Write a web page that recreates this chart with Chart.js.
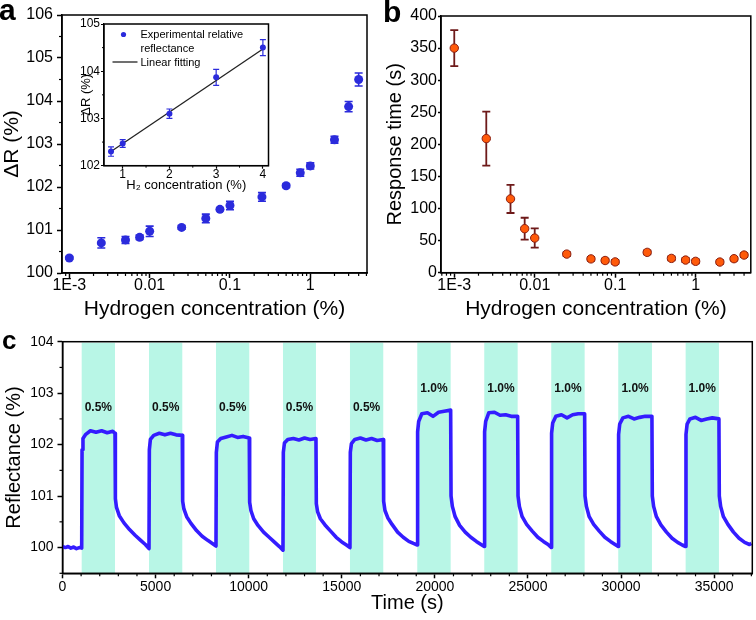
<!DOCTYPE html>
<html><head><meta charset="utf-8">
<script src="https://cdn.jsdelivr.net/npm/chart.js@4.4.1/dist/chart.umd.min.js"></script>
<style>
html,body{margin:0;padding:0;background:#fff;}
#wrap{position:relative;width:756px;height:620px;overflow:hidden;background:#fff;}
canvas{position:absolute;}
.lbl{position:absolute;font-family:Arial,"Liberation Sans",sans-serif;font-weight:bold;color:#000;line-height:1;}
</style></head><body>
<div id="wrap">
<canvas id="ca" width="372" height="322" style="left:0;top:0"></canvas>
<canvas id="cb" width="384" height="322" style="left:372px;top:0"></canvas>
<canvas id="cc" width="756" height="298" style="left:0;top:322px"></canvas>
<canvas id="ci" width="215" height="180" style="left:60px;top:15px"></canvas>
<div class="lbl" style="left:-1px;top:-5px;font-size:30px">a</div>
<div class="lbl" style="left:383px;top:-3px;font-size:30px">b</div>
<div class="lbl" style="left:2px;top:327px;font-size:26px">c</div>
</div>
<script>
// ---------- data ----------
const concentration = [0.001,0.0025,0.005,0.0075,0.01,0.025,0.05,0.075,0.1,0.25,0.5,0.75,1,2,3,4];
const deltaR      = [100.35,100.70,100.77,100.83,100.97,101.06,101.27,101.48,101.57,101.77,102.03,102.33,102.49,103.10,103.87,104.50];
const deltaRErr   = [0.03,0.12,0.08,0.05,0.12,0.04,0.10,0.03,0.10,0.10,0.04,0.08,0.07,0.08,0.12,0.15];
const responseTime= [350,209,115,68.6,54,29,21.5,19,16.8,31.7,22.3,19.7,17.7,16.6,21.8,27.5];
const responseErr = [28,42,22,17,15,3,3,3,3,3,3,3,3,3,3,3];

const insetConc   = [0.75,1,2,3,4];
const insetDeltaR = [102.30,102.47,103.10,103.87,104.50];
const insetErr    = [0.10,0.08,0.10,0.17,0.17];
const fitConc     = [0.75,4];
const fitDeltaR   = [102.30,104.47];

const logTickValues = [0.001,0.01,0.1,1];
const logTickLabels = ['1E-3','0.01','0.1','1'];
const aYTicks = [100,101,102,103,104,105,106];
const bYTicks = [0,50,100,150,200,250,300,350,400];
const insetXTicks = [1,2,3,4];
const insetYTicks = [102,103,104,105];
const cXTicks = [0,5000,10000,15000,20000,25000,30000,35000];
const cYTicks = [100,101,102,103,104];

const bandStart = [1031,4646,8244,11842,15440,19055,22653,26251,29850,33469];
const bandEnd   = [2820,6434,10032,13614,17229,20849,24447,28045,31659,35258];
const bandLabel = ['0.5%','0.5%','0.5%','0.5%','0.5%','1.0%','1.0%','1.0%','1.0%','1.0%'];

const traceTime = [
 0,150,300,450,600,750,900,1031,1050,1100,1250,1500,1800,2100,2400,2700,2820,
 2840,2900,3050,3300,3600,3900,4200,4450,4646,
 4665,4720,4900,5200,5500,5800,6100,6434,
 6454,6520,6670,6900,7200,7500,7800,8050,8244,
 8263,8320,8500,8800,9100,9400,9700,10032,
 10052,10120,10270,10500,10800,11100,11400,11650,11842,
 11861,11920,12100,12400,12700,13000,13300,13614,
 13634,13700,13850,14100,14400,14700,15000,15250,15440,
 15459,15520,15700,16000,16300,16600,16900,17229,
 17249,17320,17470,17700,18000,18300,18600,18850,19055,
 19074,19130,19300,19600,19900,20200,20500,20849,
 20869,20940,21090,21330,21630,21930,22230,22480,22653,
 22672,22730,22900,23200,23500,23800,24100,24447,
 24467,24540,24690,24930,25230,25530,25830,26080,26251,
 26270,26330,26500,26800,27100,27400,27700,28045,
 28065,28140,28290,28530,28830,29130,29430,29680,29850,
 29869,29930,30100,30400,30700,31000,31300,31659,
 31679,31750,31900,32140,32440,32740,33040,33290,33469,
 33488,33550,33700,34000,34300,34600,34900,35258,
 35278,35350,35500,35740,36040,36340,36640,36900,37000
];
const traceValue = [
 100.02,100.00,100.02,99.99,100.01,99.98,100.00,99.99,101.90,102.12,102.20,102.27,102.24,102.27,102.23,102.26,102.22,
 100.95,100.78,100.62,100.48,100.35,100.24,100.14,100.06,99.98,
 101.90,102.10,102.18,102.22,102.19,102.22,102.19,102.18,
 100.90,100.75,100.60,100.47,100.33,100.22,100.14,100.08,100.03,
 101.85,102.05,102.12,102.15,102.18,102.14,102.16,102.13,
 100.88,100.72,100.56,100.43,100.30,100.20,100.10,100.02,99.95,
 101.85,102.03,102.10,102.12,102.09,102.13,102.10,102.12,
 100.85,100.70,100.56,100.44,100.32,100.20,100.11,100.05,100.00,
 101.85,102.02,102.10,102.13,102.09,102.12,102.08,102.10,
 100.90,100.72,100.58,100.45,100.30,100.20,100.12,100.08,100.05,
 102.25,102.45,102.60,102.62,102.55,102.63,102.65,102.67,
 101.00,100.80,100.60,100.43,100.30,100.20,100.12,100.06,100.02,
 102.25,102.45,102.62,102.63,102.57,102.58,102.55,102.55,
 101.00,100.80,100.60,100.45,100.32,100.20,100.12,100.06,100.00,
 102.22,102.42,102.55,102.58,102.52,102.58,102.60,102.60,
 101.00,100.80,100.60,100.45,100.32,100.20,100.12,100.06,100.02,
 102.20,102.40,102.52,102.55,102.50,102.53,102.55,102.55,
 101.00,100.80,100.60,100.44,100.30,100.18,100.10,100.05,100.02,
 102.20,102.40,102.50,102.53,102.47,102.50,102.52,102.50,
 101.00,100.80,100.60,100.45,100.30,100.18,100.10,100.06,100.08
];

// ---------- helpers ----------
Chart.defaults.font.family = 'Arial, "Liberation Sans", Helvetica, sans-serif';
Chart.defaults.color = '#000';
const FONT = 'Arial, "Liberation Sans", Helvetica, sans-serif';

const framePlugin = {
  id:'frame',
  afterDraw(chart){
    const {ctx, chartArea:a} = chart;
    ctx.save(); ctx.strokeStyle='#000'; ctx.lineWidth=chart.config._frameWidth || 1.5;
    ctx.strokeRect(a.left, a.top, a.right-a.left, a.bottom-a.top);
    ctx.restore();
  }
};
function makeMinor(xVals, yVals, len, lw){
  return {
    id:'minorTicks',
    afterDraw(chart){
      const {ctx, chartArea:a, scales} = chart;
      ctx.save(); ctx.strokeStyle='#000'; ctx.lineWidth=lw;
      xVals.forEach(v=>{const p=scales.x.getPixelForValue(v); if(p<a.left-0.5||p>a.right+0.5) return;
        ctx.beginPath(); ctx.moveTo(p,a.bottom); ctx.lineTo(p,a.bottom+len); ctx.stroke();});
      yVals.forEach(v=>{const p=scales.y.getPixelForValue(v); if(p<a.top-0.5||p>a.bottom+0.5) return;
        ctx.beginPath(); ctx.moveTo(a.left,p); ctx.lineTo(a.left-len,p); ctx.stroke();});
      ctx.restore();
    }
  };
}
const errorBarPlugin = {
  id:'errorBars',
  beforeDatasetsDraw(chart){
    const {ctx, scales} = chart;
    chart.data.datasets.forEach(ds=>{
      if(!ds.errorBars) return;
      const cap = ds.capHalf || 4;
      ctx.save(); ctx.strokeStyle = ds.errorColor; ctx.lineWidth = ds.errorWidth || 1.5;
      ds.data.forEach((pt,i)=>{
        const e = ds.errorBars[i];
        const x = scales.x.getPixelForValue(pt.x);
        const y1 = scales.y.getPixelForValue(pt.y+e), y2 = scales.y.getPixelForValue(pt.y-e);
        ctx.beginPath();
        ctx.moveTo(x,y1); ctx.lineTo(x,y2);
        ctx.moveTo(x-cap,y1); ctx.lineTo(x+cap,y1);
        ctx.moveTo(x-cap,y2); ctx.lineTo(x+cap,y2);
        ctx.stroke();
      });
      ctx.restore();
    });
  }
};
function axisCommon(tickLen, pad, size, titleText, titleSize, titlePad, fitFn){
  return {
    grid:{display:true, drawOnChartArea:false, drawTicks:true, tickLength:tickLen, tickWidth:1.5, tickColor:'#000'},
    border:{display:true, color:'#000', width:1.5},
    ticks:{font:{size:size, family:FONT}, color:'#000', padding:pad, maxRotation:0, autoSkip:false},
    title:{display:true, text:titleText, font:{size:titleSize, family:FONT}, color:'#000', padding:titlePad},
    afterFit: fitFn
  };
}
function logMinor(min,max){
  const out=[];
  for(let d=-4; d<=1; d++){ for(let k=2;k<=9;k++){ const v=k*Math.pow(10,d); if(v>min&&v<max) out.push(v);} }
  return out;
}
const labelForLog = v => { const i = logTickValues.findIndex(t=>Math.abs(t-v)<1e-12); return i>=0?logTickLabels[i]:''; };

// ---------- panel a ----------
(function(){
  const xs = axisCommon(5,-2,16,'Hydrogen concentration (%)',21,{top:0,bottom:0.4}, s=>{s.height=49;});
  xs.type='logarithmic'; xs.min=0.00081; xs.max=5.08;
  xs.afterBuildTicks = s=>{ s.ticks = logTickValues.map(v=>({value:v})); };
  xs.ticks.callback = v=>labelForLog(v);
  const ys = axisCommon(5,4,16,'\u0394R (%)',21,{top:0,bottom:0}, s=>{s.width=62;});
  ys.min=100; ys.max=106;
  ys.afterBuildTicks = s=>{ s.ticks = aYTicks.map(v=>({value:v})); };
  ys.ticks.callback = v=>String(v);
  new Chart(document.getElementById('ca'), {
    type:'scatter',
    data:{datasets:[{label:'\u0394R', data:concentration.map((x,i)=>({x:x,y:deltaR[i]})),
      errorBars:deltaRErr, errorColor:'#2b2bdc', capHalf:4, errorWidth:1.6,
      pointRadius:4.5, pointBackgroundColor:'#2b2bdc', pointBorderColor:'#2b2bdc', pointBorderWidth:0, showLine:false}]},
    options:{responsive:false, animation:false, events:[],
      layout:{padding:{left:0,top:15,right:5,bottom:0}},
      plugins:{legend:{display:false}, tooltip:{enabled:false}},
      scales:{x:xs, y:ys}},
    plugins:[errorBarPlugin, makeMinor(logMinor(0.00081,5.08),[100.5,101.5,102.5,103.5,104.5,105.5],3,1.2), framePlugin]
  });
})();

// ---------- panel b ----------
(function(){
  const xs = axisCommon(5,-2,16,'Hydrogen concentration (%)',21,{top:0,bottom:0.4}, s=>{s.height=49.3;});
  xs.type='logarithmic'; xs.min=0.000684; xs.max=4.85;
  xs.afterBuildTicks = s=>{ s.ticks = logTickValues.map(v=>({value:v})); };
  xs.ticks.callback = v=>labelForLog(v);
  const ys = axisCommon(3,1,16,'Response time (s)',20,{top:11.5,bottom:0}, s=>{s.width=69;});
  ys.min=0; ys.max=400;
  ys.afterBuildTicks = s=>{ s.ticks = bYTicks.map(v=>({value:v})); };
  ys.ticks.callback = v=>String(v);
  new Chart(document.getElementById('cb'), {
    type:'scatter',
    data:{datasets:[{label:'Response time', data:concentration.map((x,i)=>({x:x,y:responseTime[i]})),
      errorBars:responseErr, errorColor:'#6e1a1a', capHalf:4, errorWidth:1.8,
      pointRadius:4.2, pointBackgroundColor:'#ff5a0a', pointBorderColor:'#8a1e10', pointBorderWidth:1, showLine:false}]},
    options:{responsive:false, animation:false, events:[],
      layout:{padding:{left:0,top:16,right:5,bottom:0}},
      plugins:{legend:{display:false}, tooltip:{enabled:false}},
      scales:{x:xs, y:ys}},
    plugins:[errorBarPlugin, makeMinor(logMinor(0.000684,4.85),[],3,1.2), framePlugin]
  });
})();

// ---------- inset ----------
(function(){
  const xs = axisCommon(3,-1,12,'H\u2082 concentration (%)',13,{top:0,bottom:1.5}, s=>{s.height=29.3;});
  xs.type='linear'; xs.min=0.6; xs.max=4.12;
  xs.afterBuildTicks = s=>{ s.ticks = insetXTicks.map(v=>({value:v})); };
  xs.ticks.callback = v=>String(v);
  xs.border.width=1.2; xs.grid.tickWidth=1.2;
  const ys = axisCommon(3,1,12,'\u0394R (%)',13,{top:18.2,bottom:0}, s=>{s.width=44;});
  ys.min=102; ys.max=105;
  ys.afterBuildTicks = s=>{ s.ticks = insetYTicks.map(v=>({value:v})); };
  ys.ticks.callback = v=>String(v);
  ys.border.width=1.2; ys.grid.tickWidth=1.2;
  const legendPlugin = {
    id:'insetLegend',
    afterDraw(chart){
      const ctx = chart.ctx; const ds = chart.data.datasets;
      ctx.save();
      ctx.fillStyle = ds[0].pointBackgroundColor;
      ctx.beginPath(); ctx.arc(63.5,19.5,2.6,0,Math.PI*2); ctx.fill();
      ctx.strokeStyle = ds[1].borderColor; ctx.lineWidth = 1.3;
      ctx.beginPath(); ctx.moveTo(52.5,47); ctx.lineTo(77.5,47); ctx.stroke();
      ctx.fillStyle='#000'; ctx.font='11px '+FONT; ctx.textBaseline='middle'; ctx.textAlign='left';
      ds[0].legendLines.forEach((t,i)=>ctx.fillText(t,80.5,20+i*13.5));
      ctx.fillText(ds[1].label,80.5,47.5);
      ctx.restore();
    }
  };
  const whiteBg = { id:'whiteBg', beforeDraw(chart){ const {ctx, chartArea:a}=chart; ctx.save(); ctx.fillStyle='#fff'; ctx.fillRect(a.left,a.top,a.right-a.left,a.bottom-a.top); ctx.restore(); } };
  const cfg = {
    type:'scatter',
    data:{datasets:[
      {label:'Experimental relative reflectance', legendLines:['Experimental relative','reflectance'],
       data:insetConc.map((x,i)=>({x:x,y:insetDeltaR[i]})),
       errorBars:insetErr, errorColor:'#2b2bdc', capHalf:3, errorWidth:1.2,
       pointRadius:3, pointBackgroundColor:'#2b2bdc', pointBorderWidth:0, showLine:false},
      {label:'Linear fitting', data:fitConc.map((x,i)=>({x:x,y:fitDeltaR[i]})),
       showLine:true, borderColor:'#222', borderWidth:1.3, pointRadius:0}
    ]},
    options:{responsive:false, animation:false, events:[],
      layout:{padding:{left:0,top:9,right:6.5,bottom:0}},
      plugins:{legend:{display:false}, tooltip:{enabled:false}},
      scales:{x:xs, y:ys}},
    plugins:[whiteBg, errorBarPlugin, makeMinor([1.5,2.5,3.5],[102.5,103.5,104.5],2,1), framePlugin, legendPlugin]
  };
  cfg._frameWidth = 1.2;
  new Chart(document.getElementById('ci'), cfg);
})();

// ---------- panel c ----------
(function(){
  const xs = axisCommon(5,0,14,'Time (s)',20,{top:0,bottom:5}, s=>{s.height=46.7;});
  xs.type='linear'; xs.min=0; xs.max=37050;
  xs.afterBuildTicks = s=>{ s.ticks = cXTicks.map(v=>({value:v})); };
  xs.ticks.callback = v=>String(v);
  const ys = axisCommon(5,4,14,'Reflectance (%)',20,{top:2.5,bottom:0}, s=>{s.width=62.5;});
  ys.min=99.5; ys.max=104;
  ys.afterBuildTicks = s=>{ s.ticks = cYTicks.map(v=>({value:v})); };
  ys.ticks.callback = v=>String(v);
  const xMinor=[]; for(let t=1000;t<=37000;t+=1000){ if(t%5000!==0) xMinor.push(t); }
  const bandPlugin = {
    id:'bands',
    beforeDatasetsDraw(chart){
      const {ctx, chartArea:a, scales:{x}} = chart;
      ctx.save(); ctx.fillStyle='rgb(184,246,230)';
      bandStart.forEach((s,i)=>{ const x1=x.getPixelForValue(s), x2=x.getPixelForValue(bandEnd[i]);
        ctx.fillRect(x1,a.top+1,x2-x1,a.bottom-a.top-1); });
      ctx.restore();
    },
    afterDatasetsDraw(chart){
      const {ctx, scales:{x,y}} = chart;
      ctx.save(); ctx.fillStyle='#111'; ctx.font='bold 12px '+FONT; ctx.textAlign='center'; ctx.textBaseline='middle';
      bandLabel.forEach((t,i)=>{
        const cx = (x.getPixelForValue(bandStart[i])+x.getPixelForValue(bandEnd[i]))/2;
        const cy = y.getPixelForValue(t==='1.0%'?103.08:102.71);
        ctx.fillText(t,cx,cy);
      });
      ctx.restore();
    }
  };
  new Chart(document.getElementById('cc'), {
    type:'line',
    data:{datasets:[{label:'Reflectance', data:traceTime.map((t,i)=>({x:t,y:traceValue[i]})),
      borderColor:'rgb(52,28,255)', borderWidth:3.6, pointRadius:0, tension:0, fill:false, borderJoinStyle:'round'}]},
    options:{responsive:false, animation:false, events:[],
      layout:{padding:{left:0,top:19.7,right:3.7,bottom:0}},
      plugins:{legend:{display:false}, tooltip:{enabled:false}},
      scales:{x:xs, y:ys}},
    plugins:[bandPlugin, makeMinor(xMinor,[99.5,100.5,101.5,102.5,103.5],3,1.2), framePlugin]
  });
})();
</script>
</body></html>
